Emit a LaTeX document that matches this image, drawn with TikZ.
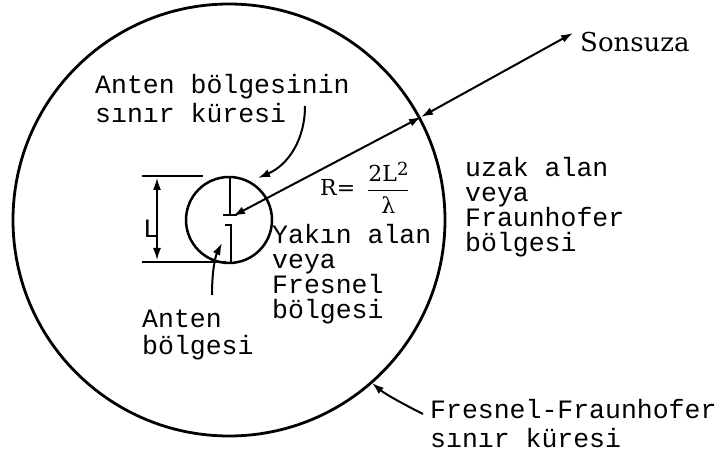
\documentclass[tikz,border=0pt]{standalone}
\usepackage{amsmath}
\usepackage{fontspec}
\setmonofont{Liberation Mono}
\newfontfamily\dvserif{DejaVu Serif}
\usetikzlibrary{arrows.meta}

\begin{document}
\begin{tikzpicture}[
  x=1pt, y=-1pt,
  tw/.style={font=\ttfamily\fontsize{26.5}{25}\selectfont, align=left,
    inner sep=0pt, anchor=west},
  sf/.style={font=\dvserif\fontsize{26}{28}\selectfont, inner sep=0pt, anchor=west},
  ring/.style={line width=2.8pt},
  dim/.style={line width=2.4pt},
  arrow/.style={-{Latex[length=12pt,width=8pt]}, line width=2pt},
  darrow/.style={{Latex[length=12pt,width=8pt]}-{Latex[length=12pt,width=8pt]}, line width=2pt}
]
  \useasboundingbox (0,0) rectangle (721,454);
  \fill[white] (0,0) rectangle (721,454);

  % the two spheres round the antenna
  \coordinate (ctr) at (229,220);
  \draw[ring] (ctr) circle[radius=216pt];
  \draw[ring, line width=2.5pt] (ctr) circle[radius=43pt];

  % antenna
  \draw[dim] (230,177) -- (230,215) (223,215) -- (237,215);
  \draw[dim] (225,225) -- (231,225) -- (231,262);

  % size L
  \coordinate (Ltop) at (157,178);
  \coordinate (Lbot) at (157,260);
  \draw[dim] (142,176) -- (203,176);
  \draw[dim] (142,262) -- (226,262);
  \draw[darrow, line width=1.6pt] (Ltop) -- (Lbot);
  \node[tw, anchor=center] (Llbl) at (151,229) {L};

  % labels
  \node[tw] (sinir) at (95,99) {Anten bölgesinin\\[4pt]sınır küresi};
  \node[tw] (yakin) at (272,274) {Yakın alan\\veya\\Fresnel\\bölgesi};
  \node[tw] (uzak) at (465,207) {uzak alan\\veya\\Fraunhofer\\bölgesi};
  \node[tw] (anten) at (142,335) {Anten\\[2pt]bölgesi};
  \node[tw] (ffsinir) at (430,424) {Fresnel-Fraunhofer\\[4pt]sınır küresi};
  \node[sf] (sonsuza) at (580,42) {Sonsuza};
  \node[sf, font=\dvserif\fontsize{22}{24}\selectfont] (rform) at (320,188)
    {R=\hspace{12pt}$\genfrac{}{}{1.8pt}{0}{\text{2L\raisebox{6pt}{\fontsize{18}{18}\selectfont 2}}}{\text{λ}}$};

  % R line out to infinity
  \coordinate (feed) at (233,216);
  \coordinate (cross) at (421,117);
  \coordinate (inf) at (573,33);
  \draw[darrow] (cross) -- (feed);
  \draw[darrow] (cross) -- (inf);

  % pointers
  \coordinate (p1) at (305,106);
  \coordinate (p1end) at (258,178);
  \coordinate (p2) at (212,295);
  \coordinate (p2end) at (222,243);
  \coordinate (p3) at (423,414);
  \coordinate (p3end) at (372,383);
  \draw[arrow] (p1) .. controls (305,140) and (288,165) .. (p1end);
  \draw[arrow] (p2) .. controls (212,272) and (215,257) .. (p2end);
  \draw[arrow] (p3) .. controls (405,405) and (385,394) .. (p3end);
\end{tikzpicture}
\end{document}
